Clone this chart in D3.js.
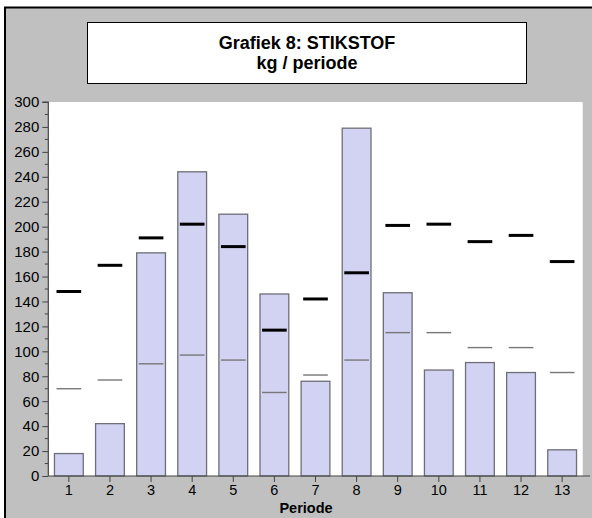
<!DOCTYPE html>
<html>
<head>
<meta charset="utf-8">
<script src="https://cdn.jsdelivr.net/npm/d3@7/dist/d3.min.js"></script>
<style>
  html, body { margin: 0; padding: 0; background: #fff; }
  svg { display: block; }
  text { font-family: "Liberation Sans", Arial, sans-serif; fill: #000; }
</style>
</head>
<body>
<svg id="chart" width="592" height="518"></svg>
<script>
// ---- data ----
const periods = ["1","2","3","4","5","6","7","8","9","10","11","12","13"];
const barValues = [18, 42, 179, 244, 210, 146, 76, 279, 147, 85, 91, 83, 21];
const upperMarks = [148, 169, 191, 202, 184, 117, 142, 163, 201, 202, 188, 193, 172];
const lowerMarks = [70, 77, 90, 97, 93, 67, 81, 93, 115, 115, 103, 103, 83];
const yMajorTicks = [0, 20, 40, 60, 80, 100, 120, 140, 160, 180, 200, 220, 240, 260, 280, 300];
const yMinorTicks = [10, 30, 50, 70, 90, 110, 130, 150, 170, 190, 210, 230, 250, 270, 290];
const titleLines = ["Grafiek 8: STIKSTOF", "kg / periode"];
const xTitle = "Periode";

(function () {
const svg = d3.select("#chart");

// background panel
svg.append("rect")
  .attr("x", 5).attr("y", 7.5).attr("width", 700).attr("height", 700)
  .attr("fill", "#c0c0c0").attr("stroke", "#000").attr("stroke-width", 2);

// title box
svg.append("rect")
  .attr("x", 87.5).attr("y", 22.5).attr("width", 439).attr("height", 61)
  .attr("fill", "#fff").attr("stroke", "#000").attr("stroke-width", 1);
svg.selectAll("text.title").data(titleLines).join("text")
  .attr("class", "title")
  .attr("x", 307).attr("y", (d, i) => 48.5 + i * 20.5)
  .attr("text-anchor", "middle")
  .style("font-size", "18px").style("font-weight", "bold")
  .text(d => d);

// plot geometry
const pLeft = 48.3, pRight = 582.7, pTop = 102, pBottom = 476;

svg.append("rect")
  .attr("x", pLeft).attr("y", pTop).attr("width", pRight - pLeft).attr("height", pBottom - pTop)
  .attr("fill", "#fff");

const x = d3.scaleBand().domain(periods).range([pLeft, pRight]).padding(0);
const y = d3.scaleLinear().domain([0, 300]).range([pBottom, pTop]);
const bw = x.bandwidth();

// bars
svg.append("g").selectAll("rect").data(barValues).join("rect")
  .attr("x", (d, i) => x(periods[i]) + bw * 0.15)
  .attr("width", bw * 0.7)
  .attr("y", d => y(d))
  .attr("height", d => y(0) - y(d))
  .attr("fill", "#d2d2f3")
  .attr("stroke", "#6e6e78")
  .attr("stroke-width", 1.3);

// lower (thin) markers
svg.append("g").selectAll("line").data(lowerMarks).join("line")
  .attr("x1", (d, i) => x(periods[i]) + bw * 0.2)
  .attr("x2", (d, i) => x(periods[i]) + bw * 0.8)
  .attr("y1", d => y(d)).attr("y2", d => y(d))
  .attr("stroke", "#777").attr("stroke-width", 1.4);

// upper (thick) markers
svg.append("g").selectAll("line").data(upperMarks).join("line")
  .attr("x1", (d, i) => x(periods[i]) + bw * 0.2)
  .attr("x2", (d, i) => x(periods[i]) + bw * 0.8)
  .attr("y1", d => y(d)).attr("y2", d => y(d))
  .attr("stroke", "#000").attr("stroke-width", 3);

// y axis
const yAxis = d3.axisLeft(y).tickValues(yMajorTicks).tickSize(6).tickPadding(3).tickFormat(d3.format("d"));
const gy = svg.append("g").attr("transform", `translate(${pLeft},0)`).call(yAxis);
gy.select(".domain").attr("stroke", "#444").attr("stroke-width", 1.2).attr("d", `M-6,${pTop}H0V${pBottom}`);
gy.selectAll(".tick line").attr("stroke", "#444");
gy.selectAll(".tick text").style("font-size", "15px").style("font-family", "Liberation Sans, Arial, sans-serif").attr("fill", "#000");
svg.append("g").attr("transform", `translate(${pLeft},0)`)
  .selectAll("line").data(yMinorTicks).join("line")
  .attr("x1", -3.5).attr("x2", 0)
  .attr("y1", d => y(d)).attr("y2", d => y(d))
  .attr("stroke", "#444");

// x axis
const xAxis = d3.axisBottom(x).tickSize(6).tickPadding(2.7);
const gx = svg.append("g").attr("transform", `translate(0,${pBottom})`).call(xAxis);
gx.select(".domain").attr("stroke", "#444").attr("stroke-width", 1.2).attr("d", `M${pLeft},0H590`);
gx.selectAll(".tick line").attr("stroke", "#444");
gx.selectAll(".tick text").style("font-size", "14.5px").style("font-family", "Liberation Sans, Arial, sans-serif").attr("fill", "#000");

svg.append("text")
  .attr("x", 306).attr("y", 513)
  .attr("text-anchor", "middle")
  .style("font-size", "14.5px").style("font-weight", "bold")
  .text(xTitle);
})();
</script>
</body>
</html>
